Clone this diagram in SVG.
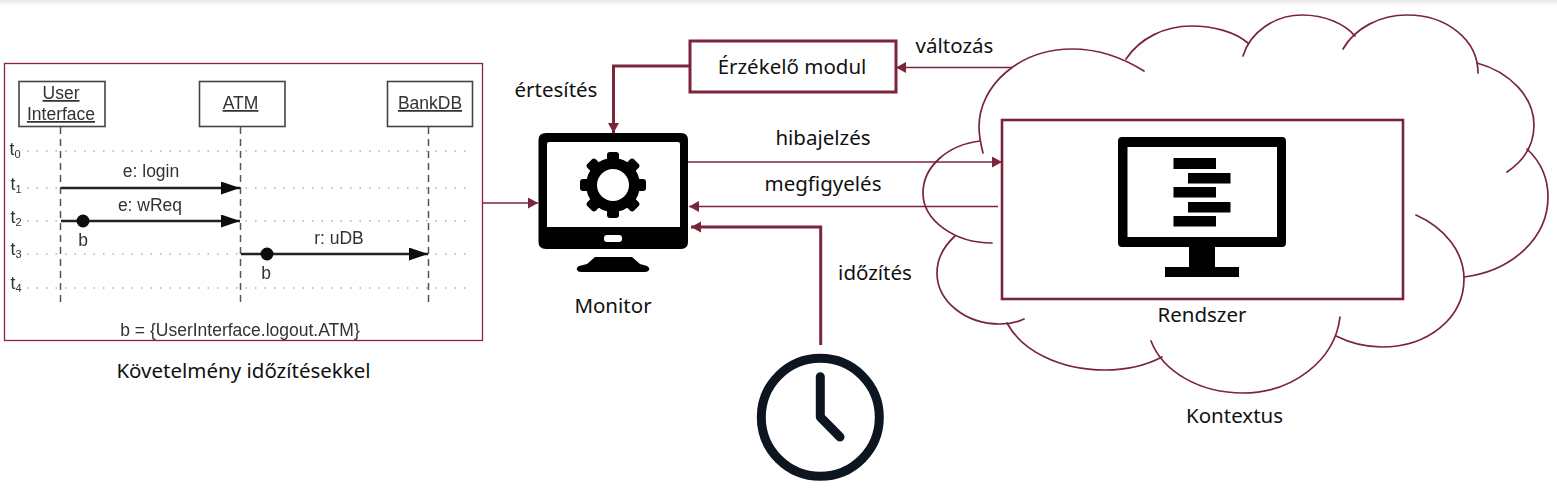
<svg xmlns="http://www.w3.org/2000/svg" width="1557" height="499" viewBox="0 0 1557 499">
<style>
.lbl{font-family:"Noto Sans","Open Sans",sans-serif;font-size:20.500px;fill:#111;text-anchor:middle}
.thin{fill:none;stroke:#7a2539;stroke-width:1.3}
.thick{fill:none;stroke:#7a2539;stroke-width:3}
.box{fill:#fff;stroke:#7a2539;stroke-width:3}
.cloud{fill:none;stroke:#7a2539;stroke-width:1.7;stroke-linecap:round}
.seq{font-family:"Liberation Sans",Arial,sans-serif;font-size:17.500px;fill:#333;text-anchor:middle}
.hd{fill:#fff;stroke:#444;stroke-width:1.6}
.life{stroke:#555;stroke-width:1.5;stroke-dasharray:7 5;fill:none}
.dot{stroke:#888;stroke-width:1.2;stroke-dasharray:1.5 8;fill:none}
.msg{stroke:#222;stroke-width:2.400;fill:none}
</style>
<defs>
<linearGradient id="topband" x1="0" y1="0" x2="0" y2="1"><stop offset="0" stop-color="#e6e6e6"/><stop offset="1" stop-color="#fff"/></linearGradient>
<marker id="ah" markerUnits="userSpaceOnUse" markerWidth="11" markerHeight="12" refX="10" refY="5.500" orient="auto"><path d="M0 0L10 5.500L0 11z" fill="#7a2539"/></marker>
<marker id="ahb" markerUnits="userSpaceOnUse" markerWidth="20" markerHeight="14" refX="19" refY="6.500" orient="auto"><path d="M0 0L19 6.500L0 13z" fill="#111"/></marker>
<filter id="soft" x="-2%" y="-2%" width="104%" height="104%"><feGaussianBlur stdDeviation="0.6"/></filter>
</defs>
<rect width="1557" height="499" fill="#fff"/>
<rect width="1557" height="6" fill="url(#topband)"/>

<g id="kontextus">
<path class="cloud" d="M1144 71C1120 56 1095 49 1072 49C1020 49 979 85 979 127C979 136 981 145 983 153"/>
<path class="cloud" d="M1126 59C1140 38 1165 26 1191 26C1214 26 1235 32 1248 43"/>
<path class="cloud" d="M1243 56C1250 32 1275 15 1302 15C1325 15 1345 24 1355 36"/>
<path class="cloud" d="M1343 49C1355 28 1380 15 1407 15C1447 15 1478 40 1478 73"/>
<path class="cloud" d="M1477 63C1510 72 1534 97 1534 125C1534 145 1525 160 1507 172"/>
<path class="cloud" d="M1527 149C1541 162 1548 179 1548 197C1548 238 1512 271 1464 277"/>
<path class="cloud" d="M1416 215C1445 228 1464 252 1464 279C1464 318 1428 347 1382 347C1365 347 1350 343 1336 336"/>
<path class="cloud" d="M1340 317C1335 360 1293 393 1243 393C1200 393 1163 372 1151 341"/>
<path class="cloud" d="M1162 357C1145 366 1125 370 1105 370C1060 370 1022 351 1007 323"/>
<path class="cloud" d="M1024 319C1016 323 1008 324 1000 324C965 324 937 301 937 273C937 259 944 246 955 236"/>
<path class="cloud" d="M992 243C954 243 923 220 923 193C923 167 947 145 980 141"/>
<text class="lbl" x="1234.500" y="422.500">Kontextus</text>
</g>

<g id="rendszer">
<rect x="1002" y="120" width="401" height="179" fill="none" stroke="#7a2539" stroke-width="2.600"/>
<path fill="#000" fill-rule="evenodd" d="M1122 137H1282Q1286 137 1286 141V243Q1286 247 1282 247H1215V267H1239V277H1165V267H1189V247H1122Q1118 247 1118 243V141Q1118 137 1122 137ZM1127.500 147V237H1277V147Z"/>
<g fill="#000">
<rect x="1173.500" y="158" width="42.500" height="11"/>
<rect x="1188" y="173" width="42.500" height="10.500"/>
<rect x="1173.500" y="187" width="42.500" height="10.500"/>
<rect x="1188" y="202" width="42.500" height="10.500"/>
<rect x="1173.500" y="216" width="42.500" height="10.500"/>
</g>
<text class="lbl" x="1202" y="321.500">Rendszer</text>
</g>

<g id="kovetelmeny">
<rect x="4.500" y="63.500" width="478" height="277" fill="#fff" stroke="#8a2340" stroke-width="1.3"/>
<g filter="url(#soft)">
<path class="dot" d="M27 151H472M27 188H472M27 221H472M27 254H472M27 288H472"/>
<rect class="hd" x="19" y="81.500" width="86" height="45"/>
<rect class="hd" x="199.500" y="81.500" width="85.500" height="45"/>
<rect class="hd" x="387.500" y="81.500" width="85" height="45"/>
<path class="life" d="M60.500 127V306M240.500 127V306M428.500 127V306"/>
<path class="msg" d="M61 188H240" marker-end="url(#ahb)"/>
<path class="msg" d="M61 221H240" marker-end="url(#ahb)"/>
<path class="msg" d="M241 254H428" marker-end="url(#ahb)"/>
<circle cx="83" cy="221" r="6.500" fill="#111"/>
<circle cx="267" cy="254" r="6.500" fill="#111"/>
<text class="seq" x="61" y="99" text-decoration="underline">User</text>
<text class="seq" x="61" y="120" text-decoration="underline">Interface</text>
<text class="seq" x="240.500" y="109" text-decoration="underline">ATM</text>
<text class="seq" x="430" y="109" text-decoration="underline">BankDB</text>
<text class="seq" x="15" y="155">t<tspan font-size="11" dy="3">0</tspan></text>
<text class="seq" x="16" y="190">t<tspan font-size="11" dy="3">1</tspan></text>
<text class="seq" x="16" y="223">t<tspan font-size="11" dy="3">2</tspan></text>
<text class="seq" x="16" y="255">t<tspan font-size="11" dy="3">3</tspan></text>
<text class="seq" x="16" y="289">t<tspan font-size="11" dy="3">4</tspan></text>
<text class="seq" x="151" y="177">e: login</text>
<text class="seq" x="150" y="211">e: wReq</text>
<text class="seq" x="339" y="244">r: uDB</text>
<text class="seq" x="83" y="246">b</text>
<text class="seq" x="266" y="279">b</text>
<text class="seq" x="240" y="336">b = {UserInterface.logout.ATM}</text>
</g>
<text class="lbl" x="243.500" y="378">Követelmény időzítésekkel</text>
</g>

<g id="monitor">
<path fill="#000" fill-rule="evenodd" d="M546 133H681Q688 133 688 140V242Q688 249 681 249H546Q538.500 249 538.500 242V140Q538.500 133 546 133ZM549 142Q547 142 547 144V227H680V144Q680 142 678 142Z"/>
<rect x="604" y="235" width="18" height="7" rx="3" fill="#fff"/>
<path fill="#000" d="M595 257H632L640 264L647 266Q650 268 649 270Q648 272 645 272H581Q578 272 577 270Q576 268 579 266L587 264Z"/>
<g id="gear" transform="translate(613 185)" fill="#000">
<circle r="27"/>
<rect x="-6" y="-33" width="12" height="13" rx="3"/>
<rect x="-6" y="-33" width="12" height="13" rx="3" transform="rotate(45)"/>
<rect x="-6" y="-33" width="12" height="13" rx="3" transform="rotate(90)"/>
<rect x="-6" y="-33" width="12" height="13" rx="3" transform="rotate(135)"/>
<rect x="-6" y="-33" width="12" height="13" rx="3" transform="rotate(180)"/>
<rect x="-6" y="-33" width="12" height="13" rx="3" transform="rotate(225)"/>
<rect x="-6" y="-33" width="12" height="13" rx="3" transform="rotate(270)"/>
<rect x="-6" y="-33" width="12" height="13" rx="3" transform="rotate(315)"/>
<circle r="16" fill="#fff"/>
</g>
<text class="lbl" x="613" y="312.500">Monitor</text>
</g>

<g id="erzekelo">
<rect class="box" x="690" y="41" width="206" height="51"/>
<text class="lbl" x="792" y="73.500">Érzékelő modul</text>
</g>

<g id="ora" fill="none" stroke="#0d1520" stroke-width="9" stroke-linecap="round" stroke-linejoin="round">
<circle cx="820.300" cy="417.300" r="59"/>
<path d="M820.300 376.700V417L840 437"/>
</g>

<g id="connectors">
<path class="thin" d="M483 203H538" marker-end="url(#ah)"/>
<path class="thin" d="M1012 67.500H896" marker-end="url(#ah)"/>
<path class="thin" d="M688 162H1002" marker-end="url(#ah)"/>
<path class="thin" d="M998 206.500H689" marker-end="url(#ah)"/>
<path class="thick" d="M690 66H613.500V133" marker-end="url(#ah)"/>
<path class="thick" d="M820.700 345V227H691" marker-end="url(#ah)"/>
</g>

<g id="felirat">
<text class="lbl" x="954.500" y="52.500">változás</text>
<text class="lbl" x="556" y="96.500">értesítés</text>
<text class="lbl" x="823" y="145">hibajelzés</text>
<text class="lbl" x="823" y="190.500">megfigyelés</text>
<text class="lbl" x="875" y="280">időzítés</text>
</g>
</svg>
